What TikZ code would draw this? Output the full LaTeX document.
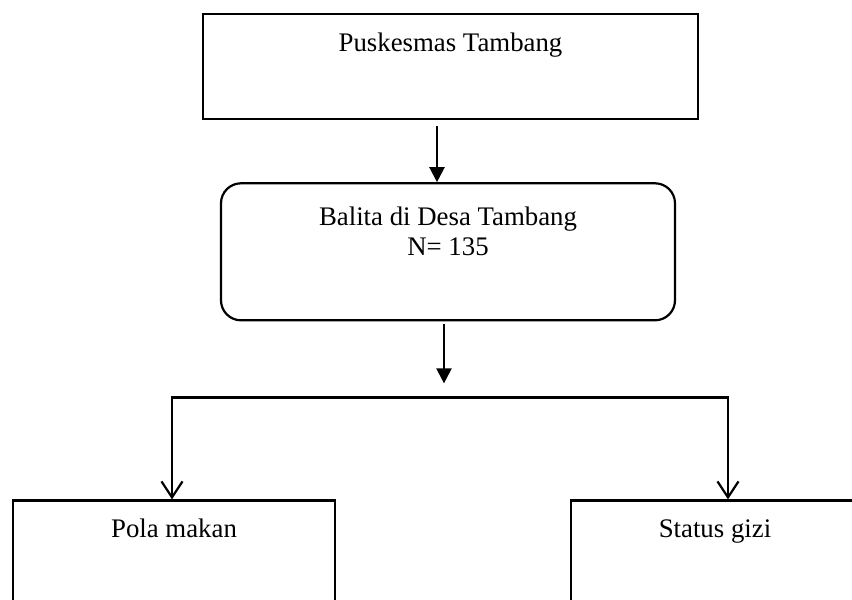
\documentclass[tikz,border=0pt]{standalone}
\usepackage{fontspec}
\setmainfont{Liberation Serif}
\usetikzlibrary{arrows.meta,positioning}

\begin{document}
\begin{tikzpicture}[
    node distance=1.5cm,
    box/.style={rectangle, draw, line width=1.1pt, align=center, inner xsep=0pt, inner ysep=0pt,
        font=\fontsize{13.4}{15}\selectfont},
    arrow/.style={-{Triangle[length=7.5pt,width=7.5pt]}, line width=1.1pt},
    branch/.style={-{Straight Barb[length=8pt,width=10.5pt]}, line width=1.1pt}
]
    \clip (-225.25pt,6.5pt) rectangle (200.75pt,-293.5pt);

    \node[box, anchor=north, minimum width=247.5pt, text height=18.5pt, text depth=34pt] (puskesmas) at (0,0) {Puskesmas Tambang};
    \node[box, rounded corners=10pt, below=31pt of puskesmas, xshift=-1.25pt, minimum width=227pt, text height=36pt, text depth=32.5pt] (balita) {Balita di Desa Tambang\\N= 135};
    \node[box, below=89pt of balita, xshift=-137pt, minimum width=161pt, text height=18.5pt, text depth=45pt] (pola) {Pola makan};
    \node[box, below=89pt of balita, xshift=133.5pt, minimum width=144pt, text height=18.5pt, text depth=45pt] (status) {Status gizi};
    \coordinate[below=38pt of balita.south] (split);

    \draw[arrow] ([xshift=-6.75pt,yshift=-3pt]puskesmas.south) -- ([xshift=-6.75pt]puskesmas.south |- balita.north);
    \draw[arrow] ([xshift=-2pt,yshift=-1.5pt]balita.south) -- ([xshift=-2pt,yshift=7pt]split);
    \draw[branch] (split) -| ([xshift=-1pt]pola.north);
    \draw[branch] (split) -| ([xshift=6.5pt]status.north);
\end{tikzpicture}
\end{document}
